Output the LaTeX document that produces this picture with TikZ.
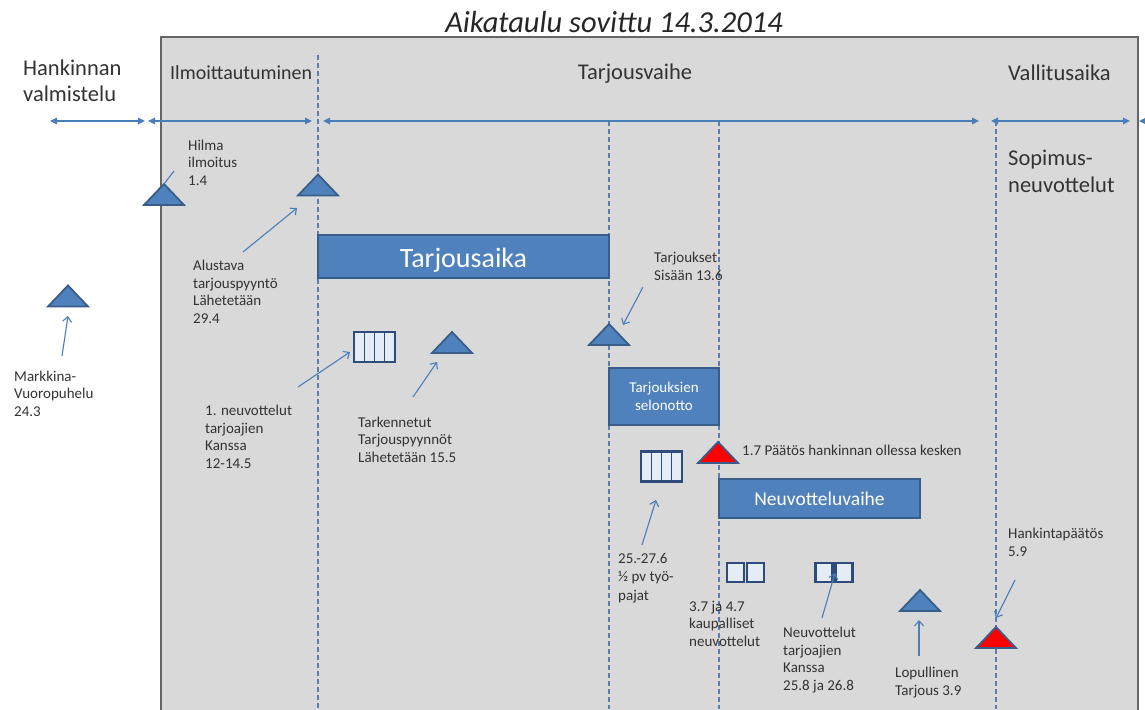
\documentclass[tikz,border=0pt]{standalone}
\usepackage{fontspec}
\setmainfont{Carlito}
\usetikzlibrary{arrows.meta}
\definecolor{bg}{HTML}{D9D9D9}
\definecolor{frame}{HTML}{666666}
\definecolor{blu}{HTML}{4F81BD}
\definecolor{bdr}{HTML}{385D8A}
\definecolor{ln}{HTML}{4A7EBB}
\definecolor{dsh}{HTML}{5B7DB0}
\definecolor{txt}{HTML}{333333}
\definecolor{ico}{HTML}{2E4B7C}
\definecolor{icofill}{HTML}{E4ECF6}
\definecolor{redfill}{HTML}{FF0000}
\begin{document}
\begin{tikzpicture}[x=1pt,y=-1pt,
  lbl/.style={font=\fontsize{15}{17.5}\selectfont, text=txt, inner sep=0pt, align=left, anchor=base west},
  phase/.style={font=\fontsize{22.5}{26}\selectfont, text=txt, inner sep=0pt, align=left, anchor=base west},
  bluebox/.style={draw=bdr, fill=blu, line width=1.5pt, text=white, inner sep=0pt, align=center},
  tl/.style={draw=ln, line width=1.2pt, {Triangle[length=7pt,width=6.5pt]}-{Triangle[length=7pt,width=6.5pt]}},
  tlend/.style={draw=ln, line width=1.2pt, -{Triangle[length=7pt,width=6.5pt]}},
  vd/.style={draw=dsh, line width=1.2pt, dash pattern=on 5pt off 3pt},
  call/.style={draw=ln, line width=1.1pt, -{Straight Barb[length=5pt,width=9pt]}},
  callplain/.style={draw=ln, line width=1.1pt},
  tri/.pic={\draw[line width=1.8pt, draw=bdr, fill=#1, line join=miter] (-20,10.5) -- (0,-10.5) -- (20,10.5) -- cycle;
            \coordinate (-top) at (0,-10.5);},
  cal/.pic={\draw[line width=2.5pt, draw=ico, fill=icofill] (-20.5,-15) rectangle (20.5,15);
            \foreach \xx in {-10,0,10} \draw[line width=1.4pt, draw=ico] (\xx,-15) -- (\xx,15);
            \coordinate (-c) at (0,0);},
  dbl/.pic={\draw[line width=2.5pt, draw=ico, fill=icofill] (-18.5,-9.5) rectangle (-1.5,9.5);
            \draw[line width=2.5pt, draw=ico, fill=icofill] (1.5,-9.5) rectangle (18.5,9.5);
            \coordinate (-c) at (0,0);}
]
\useasboundingbox (0,0) rectangle (1145,709);
\clip (0,0) rectangle (1145,709);
\fill[white] (0,0) rectangle (1145,709);

% main frame
\draw[frame, line width=1.6pt, fill=bg] (161,37) rectangle (1138,730);

% title
\node[font=\fontsize{30.5}{32}\selectfont\itshape, text=black!85, anchor=base, inner sep=0pt] (title) at (614,33) {Aikataulu sovittu 14.3.2014};

% phase labels (base = last line)
\node[phase] (hank) at (23,101) {Hankinnan\\valmistelu};
\node[phase, font=\fontsize{20}{24}\selectfont] (ilm) at (170,79) {Ilmoittautuminen};
\node[phase, anchor=base] (tarjv) at (635,79) {Tarjousvaihe};
\node[phase] (vall) at (1008,81) {Vallitusaika};
\node[phase, font=\fontsize{22.5}{27}\selectfont] (sop) at (1008,192) {Sopimus-\\neuvottelut};

% dashed verticals
\coordinate (d1t) at (318,55);  \coordinate (d1b) at (318,709);
\coordinate (d2t) at (609,121); \coordinate (d2b) at (609,709);
\coordinate (d3t) at (719,121); \coordinate (d3b) at (719,709);
\coordinate (d4t) at (996,121); \coordinate (d4b) at (996,709);
\draw[vd] (d1t) -- (d1b);
\draw[vd] (d2t) -- (d2b);
\draw[vd] (d3t) -- (d3b);
\draw[vd] (d4t) -- (d4b);

% timeline
\coordinate (a1) at (50,121);  \coordinate (a2) at (145,121);
\coordinate (b1) at (148,121); \coordinate (b2) at (312,121);
\coordinate (c1) at (323,121); \coordinate (c2) at (979,121);
\coordinate (e1) at (991,121); \coordinate (e2) at (1130,121);
\coordinate (f1) at (1150,121); \coordinate (f2) at (1139,121);
\draw[tl] (a1) -- (a2);
\draw[tl] (b1) -- (b2);
\draw[tl] (c1) -- (c2);
\draw[tl] (e1) -- (e2);
\draw[tlend] (f1) -- (f2);

% blue boxes
\node[bluebox, minimum width=291pt, minimum height=43pt, font=\fontsize{28}{30}\selectfont, text height=21pt, text depth=0pt] (taika) at (463.5,256.5) {Tarjousaika};
\node[bluebox, minimum width=110pt, minimum height=57pt, font=\fontsize{15}{17.5}\selectfont, yshift=0pt] (selon) at (664,396.5) {Tarjouksien\\selonotto};
\node[bluebox, minimum width=201pt, minimum height=39pt, font=\fontsize{19.5}{22}\selectfont, text height=13pt, text depth=0pt] (neuv) at (819.5,498.5) {Neuvotteluvaihe};

% triangles
\pic (thil) at (164,194.5) {tri=blu};
\pic (talu) at (318,185) {tri=blu};
\pic (tmar) at (68,296) {tri=blu};
\pic (ttar) at (452,342.5) {tri=blu};
\pic (tsis) at (609,334.5) {tri=blu};
\pic (tred) at (718,452.5) {tri=redfill};
\pic (tlop) at (920,600.5) {tri=blu};
\pic (thkp) at (996,637.5) {tri=redfill};

% icons
\pic (cal1) at (374.5,347) {cal};
\pic (cal2) at (661.5,466.5) {cal};
\pic (dbl1) at (745.5,572.5) {dbl};
\pic (dbl2) at (834,572.5) {dbl};

% labels (base = last line)
\node[lbl] (hil) at (188,185) {Hilma\\ilmoitus\\1.4};
\node[lbl] (alu) at (193,323) {Alustava\\tarjouspyyntö\\Lähetetään\\29.4};
\node[lbl] (mar) at (14,416) {Markkina-\\Vuoropuhelu\\24.3};
\node[lbl] (neu1) at (205,468) {1. neuvottelut\\tarjoajien\\Kanssa\\12-14.5};
\node[lbl] (tark) at (358,462) {Tarkennetut\\Tarjouspyynnöt\\Lähetetään 15.5};
\node[lbl] (sis) at (654,280) {Tarjoukset\\Sisään 13.6};
\node[lbl] (paat) at (742,455) {1.7 Päätös hankinnan ollessa kesken};
\node[lbl, font=\fontsize{15}{18.5}\selectfont] (paj) at (618,600) {25.-27.6\\½ pv työ-\\pajat};
\node[lbl] (kaup) at (689,646) {3.7 ja 4.7\\kaupalliset\\neuvottelut};
\node[lbl] (neu2) at (783,690) {Neuvottelut\\tarjoajien\\Kanssa\\25.8 ja 26.8};
\node[lbl] (lop) at (895,695) {Lopullinen\\Tarjous 3.9};
\node[lbl] (hkp) at (1008,556) {Hankintapäätös\\5.9};

% callout connectors
\coordinate (hil-s) at (174,171);
\draw[callplain] (hil-s) -- (thil-top);
\coordinate (alu-s) at (243,252); \coordinate (alu-e) at (297,208);
\draw[call] (alu-s) -- (alu-e);
\coordinate (mar-s) at (62,356); \coordinate (mar-e) at (68,316);
\draw[call] (mar-s) -- (mar-e);
\coordinate (neu1-s) at (298,387); \coordinate (neu1-e) at (350,352);
\draw[call] (neu1-s) -- (neu1-e);
\coordinate (tark-s) at (413,397); \coordinate (tark-e) at (437,362);
\draw[call] (tark-s) -- (tark-e);
\coordinate (sis-s) at (643,287); \coordinate (sis-e) at (623,325);
\draw[call] (sis-s) -- (sis-e);
\coordinate (paj-s) at (642,545); \coordinate (paj-e) at (656,500);
\draw[call] (paj-s) -- (paj-e);
\coordinate (neu2-s) at (822,618); \coordinate (neu2-e) at (835,573);
\draw[call] (neu2-s) -- (neu2-e);
\coordinate (lop-s) at (919,656); \coordinate (lop-e) at (919,620);
\draw[call] (lop-s) -- (lop-e);
\coordinate (hkp-s) at (1015,580); \coordinate (hkp-e) at (996,618);
\draw[call] (hkp-s) -- (hkp-e);
\end{tikzpicture}
\end{document}
